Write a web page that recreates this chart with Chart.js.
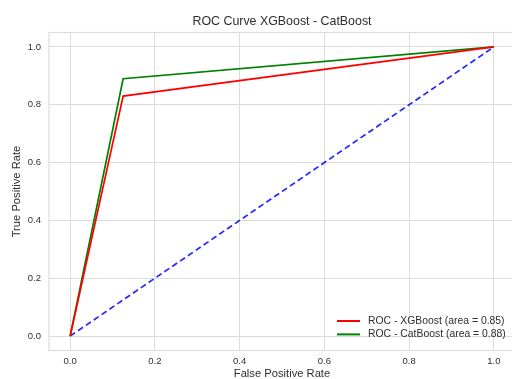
<!DOCTYPE html>
<html>
<head>
<meta charset="utf-8">
<script src="https://cdn.jsdelivr.net/npm/chart.js@4.4.1/dist/chart.umd.min.js"></script>
<style>
  html, body { margin: 0; padding: 0; background: #fff; overflow: hidden; }
  #wrap { width: 515px; height: 379px; }
</style>
</head>
<body>
<div id="wrap"><canvas id="roc"></canvas></div>
<script>
// Pontos das curvas ROC
const fprXgb = [0, 0.125, 1];
const tprXgb = [0, 0.83, 1];
const fprCat = [0, 0.125, 1];
const tprCat = [0, 0.89, 1];
const fprRef = [0, 1];
const tprRef = [0, 1];
const tickVals = [0, 0.2, 0.4, 0.6, 0.8, 1.0];
const titulo = 'ROC Curve XGBoost - CatBoost';

const pares = (xs, ys) => xs.map((x, i) => ({ x: x, y: ys[i] }));

const corGrade = '#dcdcdc';
const corTexto = '#2e2e2e';
const fonte = 'Liberation Sans, Arial, sans-serif';

// título centrado na área do gráfico, moldura e legenda interna
const extras = {
  id: 'extras',
  beforeDatasetsDraw(chart) {
    const { ctx, chartArea: a } = chart;
    ctx.save();
    ctx.strokeStyle = corGrade;
    ctx.lineWidth = 1.2;
    ctx.strokeRect(a.left, a.top, a.right - a.left, a.bottom - a.top);
    ctx.restore();
  },
  afterDatasetsDraw(chart) {
    const { ctx, chartArea: a } = chart;
    ctx.save();
    ctx.fillStyle = corTexto;
    ctx.font = '12.4px ' + fonte;
    ctx.textAlign = 'center';
    ctx.textBaseline = 'middle';
    ctx.fillText(titulo, (a.left + a.right) / 2, 22);

    const itens = chart.data.datasets.filter(d => d.label);
    ctx.font = '10.4px ' + fonte;
    ctx.textAlign = 'left';
    itens.forEach((d, i) => {
      const y = 321 + i * 13.4;
      ctx.strokeStyle = d.borderColor;
      ctx.lineWidth = 2;
      ctx.setLineDash([]);
      ctx.beginPath();
      ctx.moveTo(337, y);
      ctx.lineTo(360, y);
      ctx.stroke();
      ctx.fillStyle = corTexto;
      ctx.fillText(d.label, 368, y);
    });
    ctx.restore();
  }
};

new Chart(document.getElementById('roc'), {
  type: 'line',
  data: {
    datasets: [
      {
        label: 'ROC - XGBoost (area = 0.85)',
        data: pares(fprXgb, tprXgb),
        borderColor: '#ff0000',
        borderWidth: 1.7,
        pointRadius: 0,
        tension: 0
      },
      {
        label: 'ROC - CatBoost (area = 0.88)',
        data: pares(fprCat, tprCat),
        borderColor: '#008000',
        borderWidth: 1.7,
        pointRadius: 0,
        tension: 0
      },
      {
        label: '',
        data: pares(fprRef, tprRef),
        borderColor: 'rgba(0,0,255,0.85)',
        borderWidth: 1.7,
        borderDash: [6, 3.5],
        pointRadius: 0,
        tension: 0
      }
    ]
  },
  options: {
    responsive: true,
    maintainAspectRatio: false,
    animation: false,
    layout: { padding: { top: 32.5, left: 0, right: 0, bottom: 0 } },
    plugins: {
      legend: { display: false },
      tooltip: { enabled: false },
      title: { display: false }
    },
    scales: {
      x: {
        type: 'linear',
        min: -0.05,
        max: 1.05,
        afterBuildTicks: s => { s.ticks = tickVals.map(v => ({ value: v })); },
        afterFit: s => { s.height = 28.5; },
        ticks: {
          color: corTexto,
          font: { family: fonte, size: 9.5 },
          padding: 5,
          callback: v => v.toFixed(1)
        },
        grid: { color: corGrade, lineWidth: 1, drawTicks: false },
        border: { display: false },
        title: {
          display: true,
          text: 'False Positive Rate',
          color: corTexto,
          font: { family: fonte, size: 11.2 },
          padding: { top: 0, bottom: -2 }
        }
      },
      y: {
        type: 'linear',
        min: -0.05,
        max: 1.05,
        afterBuildTicks: s => { s.ticks = tickVals.map(v => ({ value: v })); },
        afterFit: s => { s.width = 49; },
        ticks: {
          color: corTexto,
          font: { family: fonte, size: 9.5 },
          padding: 8,
          callback: v => v.toFixed(1)
        },
        grid: { color: corGrade, lineWidth: 1, drawTicks: false },
        border: { display: false },
        title: {
          display: true,
          text: 'True Positive Rate',
          color: corTexto,
          font: { family: fonte, size: 11.2 },
          padding: { top: 10, bottom: 0 }
        }
      }
    }
  },
  plugins: [extras]
});
</script>
</body>
</html>
